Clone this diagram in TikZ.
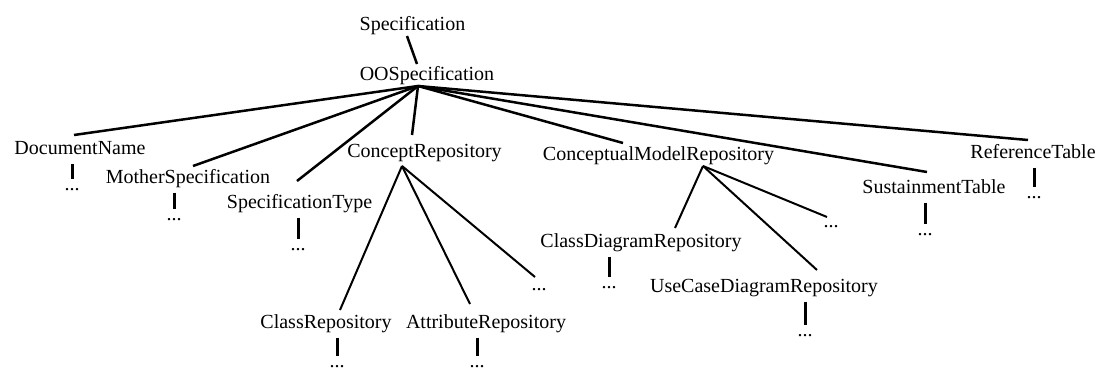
\documentclass[tikz,border=0pt]{standalone}
\usepackage{fontspec}
\setmainfont{Liberation Serif}
\usetikzlibrary{calc}
\tikzset{
  lbl/.style={anchor=base,inner sep=0pt,font=\fontsize{20}{24}\selectfont},
  mainline/.style={line width=2.5pt},
  subline/.style={line width=2pt},
  barline/.style={line width=3pt}
}
\begin{document}
\begin{tikzpicture}[x=1pt,y=1pt]
\useasboundingbox[fill=white] (0,0) rectangle (1101,-370);
% nodes
\node[lbl] (spec) at (412.5,-30) {Specification};
\node[lbl] (oo) at (427,-80) {OOSpecification};
\node[lbl] (dn) at (80,-154) {DocumentName};
\node[lbl] (ms) at (188,-183) {MotherSpecification};
\node[lbl] (stype) at (299.5,-208) {SpecificationType};
\node[lbl] (cr) at (424.5,-157) {ConceptRepository};
\node[lbl] (cmr) at (658.5,-160) {ConceptualModelRepository};
\node[lbl] (st) at (934,-193) {SustainmentTable};
\node[lbl] (rt) at (1033,-158) {ReferenceTable};
\node[lbl] (crc) at (326,-328) {ClassRepository};
\node[lbl] (cra) at (486,-328) {AttributeRepository};
\node[lbl] (crd) at (539,-290) {...};
\node[lbl] (cdr) at (641,-247) {ClassDiagramRepository};
\node[lbl] (ucdr) at (764,-292) {UseCaseDiagramRepository};
\node[lbl] (cmrd) at (831,-227) {...};
% leaf dots
\node[lbl] (ddn) at (72,-190) {...};
\node[lbl] (dms) at (174,-220) {...};
\node[lbl] (dstype) at (298,-250) {...};
\node[lbl] (dcrc) at (337,-367) {...};
\node[lbl] (dcra) at (477,-367) {...};
\node[lbl] (dcdr) at (609,-288) {...};
\node[lbl] (ducdr) at (805,-336) {...};
\node[lbl] (dst) at (925,-235) {...};
\node[lbl] (drt) at (1034,-198) {...};
% hubs
\coordinate (hub) at ($(oo.base)+(-9,-6)$);
\coordinate (crhub) at ($(cr.base)+(-22.5,-9)$);
\coordinate (cmrhub) at ($(cmr.base)+(44.5,-6)$);
% top link
\draw[mainline] ($(spec.base)+(-5.5,-6)$) -- ($(oo.base)+(-10,16)$);
% first level
\draw[mainline] (hub) -- ($(dn.base)+(-6,19)$);
\draw[mainline] (hub) -- ($(ms.base)+(5,17)$);
\draw[mainline] (hub) -- ($(stype.base)+(-2.5,27)$);
\draw[mainline] (hub) -- ($(cr.base)+(-12.5,22)$);
\draw[mainline] (hub) -- ($(cmr.base)+(-35.5,17)$);
\draw[mainline] (hub) -- ($(st.base)+(-7,21)$);
\draw[mainline] (hub) -- ($(rt.base)+(-5,18)$);
% second level
\draw[subline] (crhub) -- ($(crc.base)+(14,18)$);
\draw[subline] (crhub) -- ($(cra.base)+(-16,24)$);
\draw[subline] (crhub) -- ($(crd.base)+(-4,13)$);
\draw[subline] (cmrhub) -- ($(cdr.base)+(34,19)$);
\draw[subline] (cmrhub) -- ($(cmrd.base)+(-4,10)$);
\draw[subline] (cmrhub) -- ($(ucdr.base)+(53,22)$);
% bars
\foreach \p/\d in {dn/ddn,ms/dms,stype/dstype,crc/dcrc,cra/dcra,cdr/dcdr,ucdr/ducdr,st/dst,rt/drt}{
  \draw[barline] ($(\p.base -| \d.base)+(0,-9.5)$) -- ($(\d.base)+(0,11.5)$);
}
\end{tikzpicture}
\end{document}
